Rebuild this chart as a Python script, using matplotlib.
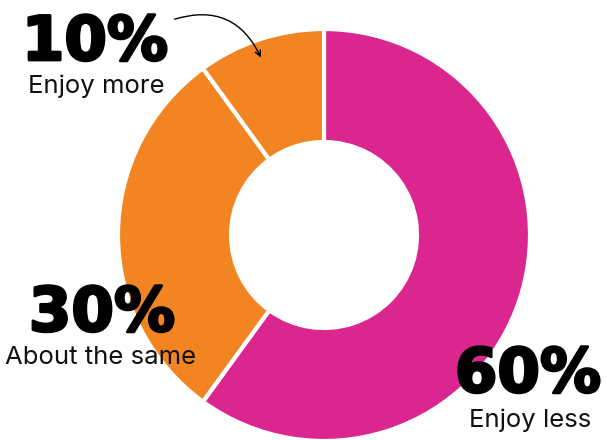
import matplotlib.pyplot as plt
import matplotlib.patheffects as pe

labels = ['Enjoy less', 'About the same', 'Enjoy more']
shares = [60, 30, 10]
colors = ['#DB2690', '#F28522', '#F28522']

W, H = 607, 440
fig = plt.figure(figsize=(W / 100, H / 100), dpi=100)
ax = fig.add_axes([0, 0, 1, 1])

# donut, centre and radius in pixel units
cx, cy, r_out, r_in = 324, H - 235, 206, 93
ax.pie(shares, colors=colors, startangle=90, counterclock=False,
       center=(cx, cy), radius=r_out, frame=True,
       wedgeprops=dict(width=r_out - r_in, edgecolor='white', linewidth=3))
ax.set_xlim(0, W)
ax.set_ylim(0, H)
ax.set_aspect('equal')
ax.axis('off')

big = dict(fontsize=44, fontweight='bold', family='DejaVu Sans',
           color='black', va='baseline',
           path_effects=[pe.withStroke(linewidth=2, foreground='black')])
small = dict(fontsize=18.5, fontweight='normal', family=['Inter', 'DejaVu Sans'],
             color='#111111', va='baseline')

# (percent x, percent baseline, label x, label baseline) in pixels from top-left
spots = {
    'Enjoy more': (95, 60, 96, 93),
    'About the same': (102, 331, 101, 364),
    'Enjoy less': (528, 392, 530, 427),
}
for lab, val in zip(labels, shares):
    px, py, lx, ly = spots[lab]
    ax.text(px, H - py, f'{val}%', ha='center', **big)
    ax.text(lx, H - ly, lab, ha='center', **small)

ax.annotate('', xy=(262, H - 60), xytext=(172, H - 20),
            arrowprops=dict(arrowstyle='->', color='black', lw=1,
                            connectionstyle='arc3,rad=-0.45'))

fig.savefig('out.png', dpi=100)
